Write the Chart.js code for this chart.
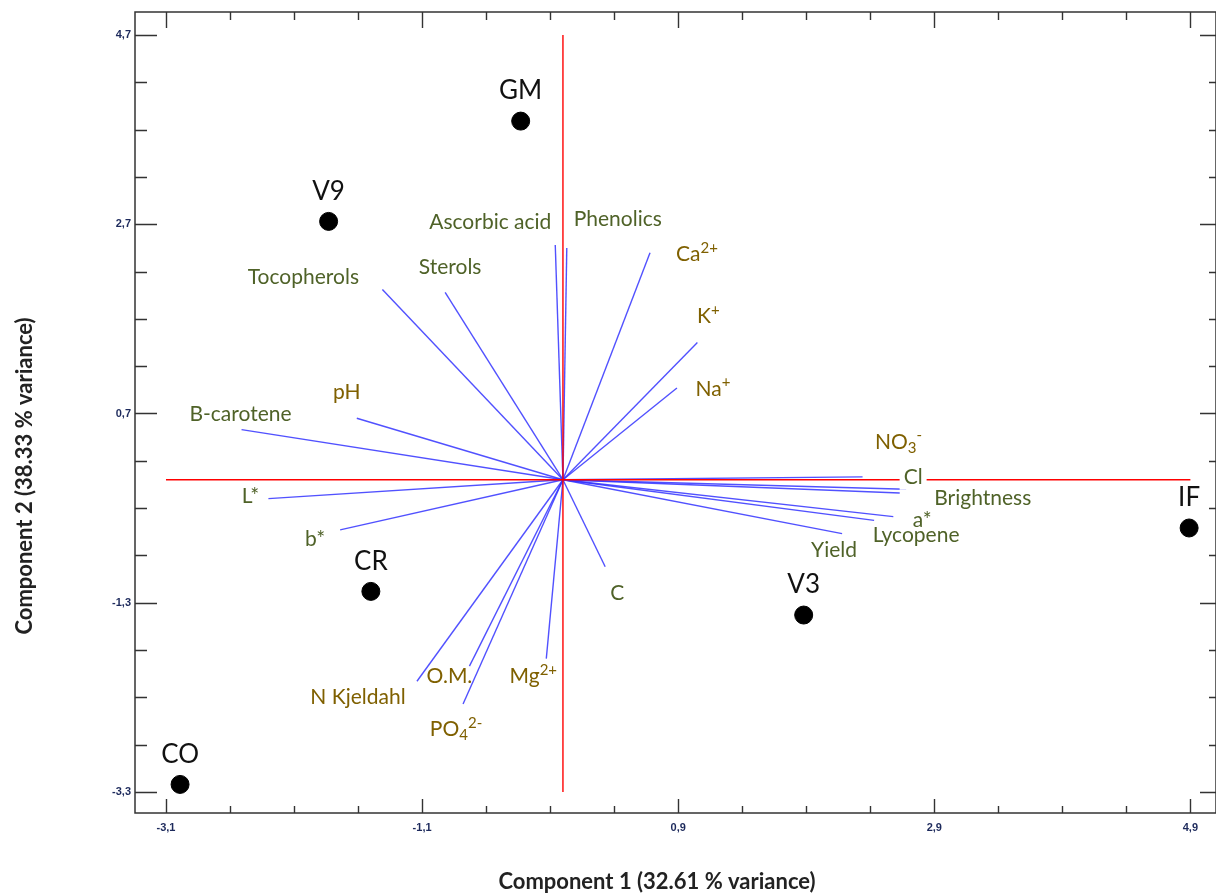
<!DOCTYPE html>
<html>
<head>
<meta charset="utf-8">
<script src="https://cdn.jsdelivr.net/npm/chart.js@4.4.1/dist/chart.umd.min.js"></script>
<style>
  html, body { margin: 0; padding: 0; background: #fff; overflow: hidden; }
  #wrap { width: 1216px; height: 895px; position: relative; }
  #biplot { display: block; }
</style>
</head>
<body>
<div id="wrap"><canvas id="biplot"></canvas></div>
<script>
// sample scores
const sampleNames = ['GM', 'V9', 'CR', 'CO', 'V3', 'IF'];
const sampleX = [-0.33, -1.83, -1.50, -2.99, 1.88, 4.89];
const sampleY = [3.79, 2.73, -1.18, -3.22, -1.43, -0.51];

// variable loadings (vector end points)
const variableNames = ['Ascorbic acid', 'Phenolics', 'Ca^{2+}', 'K^{+}', 'Na^{+}', 'Tocopherols', 'Sterols',
  'pH', 'B-carotene', 'L*', 'b*', 'C', 'Mg^{2+}', 'N Kjeldahl', 'O.M.', 'PO_{4}^{2-}',
  'NO_{3}^{-}', 'Cl', 'Brightness', 'a*', 'Lycopene', 'Yield'];
const variableX = [-0.06, 0.03, 0.68, 1.05, 0.89, -1.41, -0.92,
  -1.61, -2.51, -2.30, -1.74, 0.33, -0.13, -1.14, -0.73, -0.78,
  2.34, 2.68, 2.63, 2.58, 2.43, 2.18];
const variableY = [2.48, 2.45, 2.40, 1.45, 0.97, 2.01, 1.98,
  0.65, 0.53, -0.20, -0.53, -0.92, -1.89, -2.13, -1.97, -2.37,
  0.03, -0.10, -0.14, -0.39, -0.43, -0.57];
const variableGroup = ['fruit', 'fruit', 'soil', 'soil', 'soil', 'fruit', 'fruit',
  'soil', 'fruit', 'fruit', 'fruit', 'fruit', 'soil', 'soil', 'soil', 'soil',
  'soil', 'fruit', 'fruit', 'fruit', 'fruit', 'fruit'];

const xTicks = [-3.1, -1.1, 0.9, 2.9, 4.9];
const yTicks = [-3.3, -1.3, 0.7, 2.7, 4.7];

// label placement, pixels from the vector tip
const labelOffsets = [[-65, -23], [51, -29], [47, 2], [11, -26], [36, 1], [-79, -12], [5, -25],
  [-10, -26], [-1, -15], [-18, -2], [-25, 9], [12, 26], [-13, 18], [-59, 16], [-20, 10], [-7, 25],
  [36, -35], [7, -12], [83, 5], [29, 4], [42, 15], [-8, 17]];

const groupColors = { fruit: '#4f6228', soil: '#7f6000' };
const FONT = 'Lato, "Open Sans", sans-serif';
const TICK_FONT = 'bold 11px "Liberation Sans", Arial, sans-serif';
const TICK_COLOR = '#1d2a5c';

const fmt = v => String(Math.round(v * 10) / 10).replace('.', ',');

function parseRich(s) {
  const parts = [];
  const re = /([_^])\{([^}]*)\}|([^_^]+)/g;
  let m;
  while ((m = re.exec(s))) {
    if (m[3]) parts.push({ t: m[3], k: 'n' });
    else parts.push({ t: m[2], k: m[1] === '^' ? 'sup' : 'sub' });
  }
  return parts;
}

function drawRich(ctx, s, cx, cy, size, color, bg) {
  const parts = parseRich(s);
  const small = Math.round(size * 0.72);
  let w = 0;
  parts.forEach(p => {
    ctx.font = `${p.k === 'n' ? size : small}px ${FONT}`;
    p.w = ctx.measureText(p.t).width;
    w += p.w;
  });
  let x = cx - w / 2;
  if (bg) {
    ctx.fillStyle = '#fff';
    ctx.fillRect(x - 4, cy - size * 0.6, w + 8, size * 1.2);
  }
  ctx.fillStyle = color;
  ctx.textAlign = 'left';
  ctx.textBaseline = 'middle';
  parts.forEach(p => {
    const dy = p.k === 'sup' ? -size * 0.3 : p.k === 'sub' ? size * 0.3 : 0;
    ctx.font = `${p.k === 'n' ? size : small}px ${FONT}`;
    ctx.fillText(p.t, x, cy + dy);
    x += p.w;
  });
}

const framePlugin = {
  id: 'frame',
  afterDraw(chart) {
    const { ctx, chartArea: a, scales: { x, y } } = chart;
    ctx.save();

    // variable labels
    variableNames.forEach((n, i) => {
      const px = x.getPixelForValue(variableX[i]) + labelOffsets[i][0];
      const py = y.getPixelForValue(variableY[i]) + labelOffsets[i][1];
      drawRich(ctx, n, px, py, 21, groupColors[variableGroup[i]], n === 'Cl');
    });

    // sample labels
    ctx.fillStyle = '#111';
    ctx.font = `26px ${FONT}`;
    ctx.textAlign = 'center';
    ctx.textBaseline = 'middle';
    sampleNames.forEach((n, i) => {
      ctx.fillText(n, x.getPixelForValue(sampleX[i]), y.getPixelForValue(sampleY[i]) - 30);
    });

    // box
    ctx.strokeStyle = '#333';
    ctx.lineWidth = 1.5;
    ctx.strokeRect(a.left, a.top, a.right - a.left, a.bottom - a.top);

    // inward ticks
    ctx.lineWidth = 1.4;
    ctx.beginPath();
    for (let v = xTicks[0]; v <= xTicks[xTicks.length - 1] + 1e-6; v += 0.5) {
      const major = xTicks.some(t => Math.abs(t - v) < 1e-6);
      const px = Math.round(x.getPixelForValue(v)) + 0.5;
      ctx.moveTo(px, a.bottom); ctx.lineTo(px, a.bottom - (major ? 14 : 7));
      ctx.moveTo(px, a.top); ctx.lineTo(px, a.top + (major ? 16 : 8));
    }
    for (let v = yTicks[0]; v <= yTicks[yTicks.length - 1] + 1e-6; v += 0.5) {
      const major = yTicks.some(t => Math.abs(t - v) < 1e-6);
      const py = Math.round(y.getPixelForValue(v)) + 0.5;
      ctx.moveTo(a.left, py); ctx.lineTo(a.left + (major ? 22 : 12), py);
      ctx.moveTo(a.right, py); ctx.lineTo(a.right - (major ? 16 : 7), py);
    }
    ctx.stroke();

    // x tick labels
    ctx.fillStyle = TICK_COLOR;
    ctx.font = TICK_FONT;
    ctx.textAlign = 'center';
    ctx.textBaseline = 'middle';
    xTicks.forEach(v => ctx.fillText(fmt(v), x.getPixelForValue(v), a.bottom + 15));

    // axis titles
    ctx.fillStyle = '#222';
    ctx.font = `bold 22px ${FONT}`;
    ctx.fillText('Component 1 (32.61 % variance)', 657, 882);
    ctx.translate(25, 476);
    ctx.rotate(-Math.PI / 2);
    ctx.fillText('Component 2 (38.33 % variance)', 0, 0);
    ctx.restore();
  }
};

const datasets = [{
  data: sampleX.map((v, i) => ({ x: v, y: sampleY[i] })),
  backgroundColor: '#000',
  borderColor: '#000',
  pointRadius: 9,
  pointHoverRadius: 9
}, {
  data: [{ x: xTicks[0], y: 0 }, { x: xTicks[xTicks.length - 1], y: 0 }],
  showLine: true, borderColor: '#ff0000', borderWidth: 1.4, pointRadius: 0
}, {
  data: [{ x: 0, y: yTicks[0] }, { x: 0, y: yTicks[yTicks.length - 1] }],
  showLine: true, borderColor: '#ff0000', borderWidth: 1.4, pointRadius: 0
}];
variableNames.forEach((n, i) => {
  datasets.push({
    label: n,
    data: [{ x: 0, y: 0 }, { x: variableX[i], y: variableY[i] }],
    showLine: true,
    borderColor: 'rgba(50, 50, 255, 0.85)',
    borderWidth: 1.4,
    pointRadius: 0
  });
});

new Chart(document.getElementById('biplot'), {
  type: 'scatter',
  data: { datasets },
  options: {
    responsive: true,
    maintainAspectRatio: false,
    animation: false,
    layout: { autoPadding: false, padding: { top: 12, right: 0, left: 0, bottom: 0 } },
    plugins: { legend: { display: false }, tooltip: { enabled: false } },
    scales: {
      x: {
        type: 'linear',
        min: -3.342,
        max: 5.1,
        grid: { display: false, drawTicks: false },
        border: { display: false },
        afterBuildTicks: s => { s.ticks = xTicks.map(v => ({ value: v })); },
        afterFit: s => { s.height = 82; },
        ticks: { display: false }
      },
      y: {
        type: 'linear',
        min: -3.522,
        max: 4.943,
        grid: { display: false, drawTicks: false },
        border: { display: false },
        afterBuildTicks: s => { s.ticks = yTicks.map(v => ({ value: v })); },
        afterFit: s => { s.width = 135; },
        ticks: {
          callback: fmt,
          padding: 4,
          color: TICK_COLOR,
          font: { family: '"Liberation Sans", Arial, sans-serif', size: 11, weight: 'bold' }
        }
      }
    }
  },
  plugins: [framePlugin]
});
</script>
</body>
</html>
